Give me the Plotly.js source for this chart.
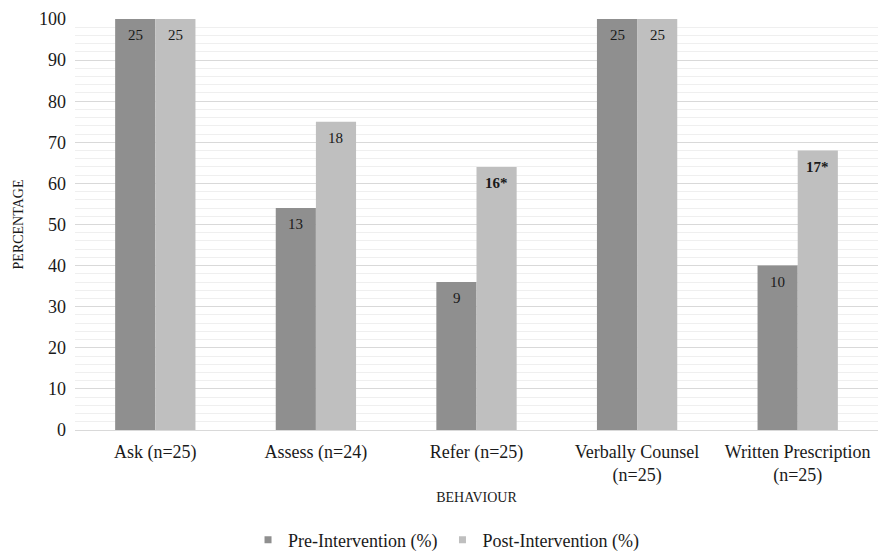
<!DOCTYPE html>
<html>
<head>
<meta charset="utf-8">
<script src="https://cdn.plot.ly/plotly-3.0.1.min.js"></script>
<style>html,body{margin:0;padding:0;background:#fff;}#chart{width:878px;height:551px;}</style>
</head>
<body>
<div id="chart"></div>
<script>
const categories = ["Ask (n=25)", "Assess (n=24)", "Refer (n=25)", "Verbally Counsel<br>(n=25)", "Written Prescription<br>(n=25)"];
const seriesNames = ["Pre-Intervention (%)", "Post-Intervention (%)"];
const preValues = [100, 54, 36, 100, 40];
const postValues = [100, 75, 64, 100, 68];
const preLabels = ["25", "13", "9", "25", "10"];
const postLabels = ["25", "18", "<b>16*</b>", "25", "<b>17*</b>"];
const yTicks = [0, 10, 20, 30, 40, 50, 60, 70, 80, 90, 100];

const font = "'Liberation Serif', 'Times New Roman', Times, serif";
const colors = ["#8f8f8f", "#bfbfbf"];

const bars = [
  {type: "bar", name: seriesNames[0], x: categories, y: preValues, marker: {color: colors[0]}, showlegend: false, hoverinfo: "none"},
  {type: "bar", name: seriesNames[1], x: categories, y: postValues, marker: {color: colors[1]}, showlegend: false, hoverinfo: "none"}
];
const legendTraces = seriesNames.map((n, i) => ({
  type: "scatter", mode: "markers", name: n, x: [null], y: [null],
  marker: {symbol: "square", size: 7, color: colors[i]}, hoverinfo: "none"
}));

const annotations = [];
[[preValues, preLabels, -20], [postValues, postLabels, 20]].forEach(([vals, labs, dx]) => {
  vals.forEach((v, i) => {
    annotations.push({
      x: categories[i], y: v, xref: "x", yref: "y", text: labs[i], showarrow: false,
      xshift: dx, yshift: -16, yanchor: "middle",
      font: {family: font, size: 15, color: "#1a1a1a"}
    });
  });
});

const layout = {
  width: 878, height: 551,
  margin: {l: 75, r: 0, t: 19, b: 121},
  paper_bgcolor: "#fff", plot_bgcolor: "#fff",
  barmode: "group", bargap: 0.5, bargroupgap: 0,
  font: {family: font, color: "#1a1a1a"},
  xaxis: {
    tickfont: {family: font, size: 18, color: "#1a1a1a"},
    showline: true, linecolor: "#d9d9d9", linewidth: 1,
    ticks: "", showgrid: false, ticklabelstandoff: 5,
    title: {text: "BEHAVIOUR", font: {family: font, size: 14, color: "#1a1a1a"}, standoff: 7}
  },
  yaxis: {
    range: [0, 100], tickvals: yTicks,
    tickfont: {family: font, size: 18, color: "#1a1a1a"},
    gridcolor: "#d9d9d9", gridwidth: 1,
    zeroline: false, ticks: "", ticklabelstandoff: 8,
    minor: {dtick: 2, showgrid: true, gridcolor: "#efefef", gridwidth: 1},
    title: {text: "PERCENTAGE", font: {family: font, size: 14, color: "#1a1a1a"}, standoff: 12}
  },
  legend: {
    orientation: "h", x: 0.508, xanchor: "center", xref: "container",
    y: 0.02, yanchor: "middle", yref: "container",
    font: {family: font, size: 18, color: "#1a1a1a"},
    itemwidth: 30, traceorder: "normal", itemsizing: "trace"
  },
  annotations: annotations,
  showlegend: true
};

Plotly.newPlot("chart", bars.concat(legendTraces), layout, {displayModeBar: false, staticPlot: true});
</script>
</body>
</html>
